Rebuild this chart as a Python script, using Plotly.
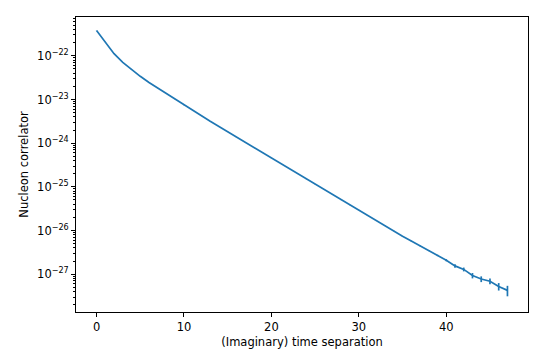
import plotly.graph_objects as go

# Imaginary time separations
time_sep = list(range(48))

# Nucleon correlator values (log axis)
correlator = [
    3.80e-22, 2.09e-22, 1.12e-22, 7.08e-23, 4.79e-23, 3.39e-23, 2.45e-23, 1.82e-23,
    1.35e-23, 1.00e-23, 7.41e-24, 5.62e-24, 4.22e-24, 3.16e-24, 2.40e-24, 1.82e-24,
    1.38e-24, 1.05e-24, 7.94e-25, 6.03e-25, 4.57e-25, 3.47e-25, 2.63e-25, 2.00e-25,
    1.51e-25, 1.15e-25, 8.71e-26, 6.61e-26, 5.01e-26, 3.80e-26, 2.95e-26, 2.24e-26,
    1.70e-26, 1.29e-26, 9.77e-27, 7.41e-27, 5.75e-27, 4.47e-27, 3.47e-27, 2.69e-27,
    2.09e-27, 1.55e-27, 1.29e-27, 9.33e-28, 7.76e-28, 6.92e-28, 5.25e-28, 4.27e-28,
]

# Error bars (absolute)
errors = [
    1.9e-24, 1.0e-24, 5.6e-25, 3.5e-25, 2.4e-25, 1.7e-25, 1.2e-25, 9.0e-26,
    7.0e-26, 5.0e-26, 3.7e-26, 2.8e-26, 2.1e-26, 1.6e-26, 1.2e-26, 9.0e-27,
    7.0e-27, 5.5e-27, 4.2e-27, 3.3e-27, 2.6e-27, 2.0e-27, 1.6e-27, 1.3e-27,
    1.0e-27, 8.0e-28, 6.5e-28, 5.2e-28, 4.2e-28, 3.4e-28, 1.5e-28, 1.2e-28,
    1.0e-28, 0.9e-28, 0.8e-28, 0.75e-28, 0.75e-28, 0.8e-28, 0.87e-28, 0.94e-28,
    1.11e-28, 1.35e-28, 1.29e-28, 1.31e-28, 1.16e-28, 1.04e-28, 1.02e-28, 1.15e-28,
]

x_ticks = [0, 10, 20, 30, 40]
y_tick_exps = [-27, -26, -25, -24, -23, -22]
y_ticks = [10.0 ** e for e in y_tick_exps]
y_tick_text = ["10<sup>\u2212%d</sup>" % (-e) for e in y_tick_exps]
y_minor = [m * 10.0 ** e for e in range(-29, -21) for m in range(2, 10)]

color = "#1f77b4"
font = dict(family="DejaVu Sans", size=11.5, color="black")

fig = go.Figure(
    go.Scatter(
        x=time_sep,
        y=correlator,
        mode="lines",
        line=dict(color=color, width=1.7),
        error_y=dict(type="data", array=errors, visible=True,
                     color=color, thickness=1.7, width=0),
        showlegend=False,
    )
)

fig.update_layout(
    width=534,
    height=361,
    margin=dict(l=76, r=6, t=17, b=49),
    paper_bgcolor="white",
    plot_bgcolor="white",
    font=font,
    xaxis=dict(
        range=[-2.35, 49.35],
        tickvals=x_ticks,
        ticks="outside",
        ticklen=4,
        tickwidth=1,
        tickcolor="black",
        showline=True,
        mirror=True,
        linecolor="black",
        linewidth=1,
        showgrid=False,
        zeroline=False,
        title=dict(text="(Imaginary) time separation", font=font, standoff=5),
        tickfont=font,
    ),
    yaxis=dict(
        type="log",
        range=[-27.865, -21.112],
        tickmode="array",
        tickvals=y_ticks,
        ticktext=y_tick_text,
        ticks="outside",
        ticklen=4,
        tickwidth=1,
        tickcolor="black",
        showline=True,
        mirror=True,
        linecolor="black",
        linewidth=1,
        showgrid=False,
        zeroline=False,
        minor=dict(tickmode="array", tickvals=y_minor, ticks="outside", ticklen=2.3,
                   tickwidth=0.8, tickcolor="black", showgrid=False),
        title=dict(text="Nucleon correlator", font=font, standoff=6),
        tickfont=font,
    ),
)

fig.write_html("out.html")
